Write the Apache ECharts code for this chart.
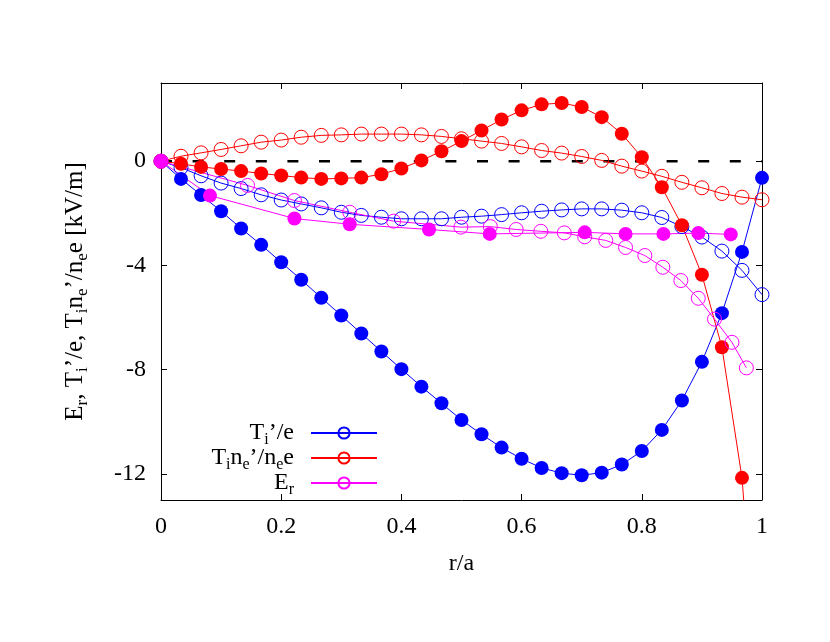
<!DOCTYPE html>
<html>
<head>
<meta charset="utf-8">
<script src="https://cdn.jsdelivr.net/npm/echarts@6/dist/echarts.min.js"></script>
<style>
    html, body { margin: 0; padding: 0; background: #fff; }
    #main { width: 830px; height: 642px; }
</style>
</head>
<body>
<div id="main"></div>
<script>
// r/a grid for the 31-point profiles
const rGrid = [0, 0.0333, 0.0667, 0.1, 0.1333, 0.1667, 0.2, 0.2333, 0.2667, 0.3, 0.3333,
    0.3667, 0.4, 0.4333, 0.4667, 0.5, 0.5333, 0.5667, 0.6, 0.6333, 0.6667,
    0.7, 0.7333, 0.7667, 0.8, 0.8333, 0.8667, 0.9, 0.9333, 0.9667, 1.0];

// Ti'/e, filled
const tiFilled = [0, -0.68, -1.30, -1.92, -2.58, -3.21, -3.88, -4.55, -5.24, -5.92, -6.61,
    -7.30, -7.98, -8.65, -9.29, -9.93, -10.48, -10.99, -11.42, -11.77, -11.97,
    -12.05, -11.95, -11.64, -11.12, -10.31, -9.18, -7.70, -5.83, -3.48, -0.64];
// Ti'/e, open
const tiOpen = [0, -0.25, -0.56, -0.84, -1.05, -1.29, -1.49, -1.64, -1.79, -1.96, -2.08,
    -2.15, -2.21, -2.21, -2.21, -2.15, -2.11, -2.05, -1.98, -1.92, -1.87,
    -1.83, -1.83, -1.88, -1.98, -2.16, -2.51, -2.91, -3.45, -4.19, -5.12];

// Ti ne'/ne e, filled
const pnFilled = [0, -0.10, -0.22, -0.30, -0.38, -0.47, -0.55, -0.63, -0.68, -0.66, -0.63,
    -0.50, -0.28, 0.03, 0.38, 0.77, 1.18, 1.60, 1.95, 2.18, 2.23,
    2.08, 1.69, 1.05, 0.15, -1.00, -2.46, -4.36, -7.14, -12.15, -22.0];
// Ti ne'/ne e, open
const pnOpen = [0, 0.19, 0.32, 0.45, 0.59, 0.73, 0.81, 0.92, 0.99, 1.01, 1.04,
    1.04, 1.04, 1.01, 0.95, 0.86, 0.77, 0.68, 0.55, 0.41, 0.31,
    0.18, 0.03, -0.19, -0.38, -0.58, -0.81, -1.02, -1.24, -1.38, -1.48];

// Er, filled
const erFilledR = [0, 0.0815, 0.222, 0.314, 0.446, 0.547, 0.705, 0.773, 0.836, 0.894, 0.948];
const erFilled = [0, -1.32, -2.20, -2.42, -2.62, -2.79, -2.73, -2.79, -2.79, -2.76, -2.81];
// Er, open
const erOpenR = [0, 0.144, 0.222, 0.314, 0.387, 0.499, 0.548, 0.591, 0.632, 0.671, 0.705,
    0.740, 0.773, 0.805, 0.835, 0.865, 0.894, 0.921, 0.950, 0.974];
const erOpen = [0, -0.93, -1.51, -1.96, -2.30, -2.53, -2.51, -2.62, -2.69, -2.75, -2.90,
    -3.04, -3.31, -3.62, -4.07, -4.58, -5.26, -6.06, -6.95, -7.93];

const yTicks = [-12, -8, -4, 0];

const BLUE = '#0000ff';
const RED = '#ff0000';
const MAGENTA = '#ff00ff';
const FONT = 'Liberation Serif';
const FS = 24;

const pairs = (xs, ys) => xs.map((x, i) => [x, ys[i]]);

const rich = {
    a: { fontSize: FS, fontFamily: FONT, color: '#000' },
    s: { fontSize: 16, fontFamily: FONT, color: '#000', padding: [14, 0, 0, 0] }
};
// y axis title
const richName = {
    a: { fontSize: 25, fontFamily: FONT, color: '#000' },
    s: { fontSize: 17, fontFamily: FONT, color: '#000', padding: [15, 0, 0, 0] }
};

function filledSeries(name, xs, ys, color) {
    return {
        name: name,
        type: 'line',
        data: pairs(xs, ys),
        symbol: 'circle',
        symbolSize: 14,
        itemStyle: { color: color },
        lineStyle: { color: color, width: 1 },
        emphasis: { disabled: true }
    };
}

function openSeries(name, xs, ys, color) {
    return {
        name: name,
        type: 'line',
        data: pairs(xs, ys),
        symbol: 'circle',
        symbolSize: 14,
        itemStyle: { color: 'rgba(0,0,0,0)', borderColor: color, borderWidth: 1 },
        lineStyle: { color: color, width: 1 },
        emphasis: { disabled: true }
    };
}

function legendItem(name, top, label) {
    return {
        data: [name],
        right: 452,
        top: top,
        orient: 'vertical',
        align: 'right',
        itemWidth: 66,
        itemHeight: 14,
        padding: 0,
        selectedMode: false,
        formatter: () => label,
        textStyle: { rich: rich, padding: [0, 12, 0, 0] }
    };
}

function frameAxis(extra) {
    return Object.assign({
        axisLine: { show: true, onZero: false, lineStyle: { color: '#000', width: 1 } },
        axisTick: { inside: true, length: 6, lineStyle: { color: '#000' } },
        axisLabel: { show: false },
        splitLine: { show: false }
    }, extra);
}

let chart = echarts.init(document.getElementById('main'));

let option = {
    backgroundColor: '#fff',
    animation: false,
    grid: { left: 161, right: 68, top: 83, bottom: 142 },
    legend: [
        legendItem('Ti’/e', 421, '{a|T}{s|i}{a|’/e}'),
        legendItem('Tine’/nee', 446, '{a|T}{s|i}{a|n}{s|e}{a|’/n}{s|e}{a|e}'),
        legendItem('Er', 471, '{a|E}{s|r}')
    ],
    xAxis: [
        frameAxis({
            type: 'value', min: 0, max: 1, interval: 0.2,
            name: 'r/a', nameLocation: 'middle', nameGap: 52,
            nameTextStyle: { fontFamily: FONT, fontSize: FS, color: '#000' },
            axisLabel: { fontFamily: FONT, fontSize: FS, color: '#000', margin: 15 }
        }),
        frameAxis({ type: 'value', min: 0, max: 1, interval: 0.2, position: 'top' })
    ],
    yAxis: [
        frameAxis({
            type: 'value', min: -13, max: 3,
            name: '{a|E}{s|r}{a|, T}{s|i}{a|’/e, T}{s|i}{a|n}{s|e}{a|’/n}{s|e}{a|e [kV/m]}',
            nameLocation: 'middle', nameRotate: 90, nameGap: 70,
            nameTextStyle: { rich: richName },
            axisTick: { inside: true, length: 6, customValues: yTicks, lineStyle: { color: '#000' } },
            axisLabel: { fontFamily: FONT, fontSize: FS, color: '#000', margin: 15, customValues: yTicks }
        }),
        frameAxis({
            type: 'value', min: -13, max: 3, position: 'right',
            axisTick: { inside: true, length: 6, customValues: yTicks, lineStyle: { color: '#000' } }
        })
    ],
    series: [
        {
            name: 'zero',
            type: 'line',
            data: [[0, 0], [1, 0]],
            symbol: 'none',
            lineStyle: { color: '#000', width: 2.5, type: [11, 20.6] },
            emphasis: { disabled: true }
        },
        filledSeries('Ti’/e 1', rGrid, tiFilled, BLUE),
        openSeries('Ti’/e', rGrid, tiOpen, BLUE),
        filledSeries('Tine’/nee 1', rGrid, pnFilled, RED),
        openSeries('Tine’/nee', rGrid, pnOpen, RED),
        openSeries('Er', erOpenR, erOpen, MAGENTA),
        filledSeries('Er 1', erFilledR, erFilled, MAGENTA)
    ]
};

option && chart.setOption(option);
</script>
</body>
</html>
